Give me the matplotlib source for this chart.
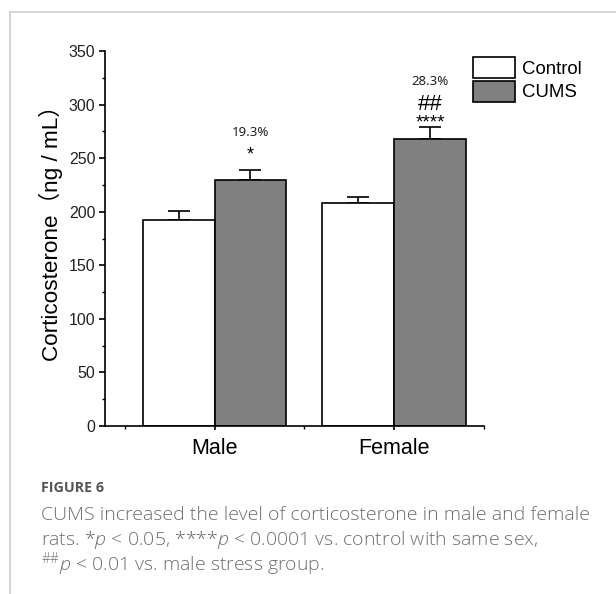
import numpy as np
import matplotlib
matplotlib.use("Agg")
import matplotlib.pyplot as plt
from matplotlib.lines import Line2D

# data
groups = ["Male", "Female"]
control_mean = [192, 208]
control_sem = [9, 5.5]
cums_mean = [229.5, 268]
cums_sem = [9.5, 11.5]
pct_labels = ["19.3%", "28.3%"]
sig_labels = ["*", "****"]
hash_labels = ["", "##"]

plt.rcParams['mathtext.fontset'] = 'custom'
plt.rcParams['mathtext.rm'] = 'Open Sans:light'
plt.rcParams['mathtext.it'] = 'Open Sans:italic:light'

fig = plt.figure(figsize=(6.16, 5.94), dpi=100)
ax = fig.add_axes([105/616, 1-426/594, (484-105)/616, 375/594])

x = np.arange(1, len(groups)+1)
w = 0.4
ax.bar(x - w/2, control_mean, w, color='white', edgecolor='black', linewidth=1.2,
       label='Control', zorder=2)
ax.bar(x + w/2, cums_mean, w, color='#808080', edgecolor='black', linewidth=1.2,
       label='CUMS', zorder=2)
ax.errorbar(x - w/2, control_mean, yerr=[np.zeros(2), control_sem], fmt='none',
            ecolor='black', elinewidth=1.2, capsize=8, capthick=1.2, zorder=1)
ax.errorbar(x + w/2, cums_mean, yerr=[np.zeros(2), cums_sem], fmt='none',
            ecolor='black', elinewidth=1.2, capsize=8, capthick=1.2, zorder=1)

# annotations above CUMS bars (baseline offsets above error bar top)
for i in range(len(groups)):
    top = cums_mean[i] + cums_sem[i]
    if hash_labels[i]:
        ax.text(x[i] + w/2, top - 1, sig_labels[i], ha='center', va='baseline',
                fontsize=13.5, family='Liberation Sans')
        ax.text(x[i] + w/2, top + 15.5, hash_labels[i], ha='center', va='baseline',
                fontsize=16, family='Liberation Sans')
        ax.text(x[i] + w/2, top + 39, pct_labels[i], ha='center', va='baseline',
                fontsize=9.5, family='Noto Sans', color='#222222')
    else:
        ax.text(x[i] + w/2, top + 10, sig_labels[i], ha='center', va='baseline',
                fontsize=13, family='Liberation Sans')
        ax.text(x[i] + w/2, top + 31.5, pct_labels[i], ha='center', va='baseline',
                fontsize=9.5, family='Noto Sans', color='#222222')

ax.set_xlim(0.39, 2.5)
ax.set_ylim(0, 350)
ax.set_xticks(x)
ax.set_xticklabels(groups, fontsize=15.5, family='Liberation Sans')
ax.set_xticks([0.5, 1.5, 2.5], minor=True)
ax.set_yticks(np.arange(0, 351, 50))
ax.set_yticks(np.arange(25, 350, 50), minor=True)
ax.tick_params(axis='y', which='major', labelsize=11.5, length=4, width=1.2, pad=3)
ax.tick_params(axis='y', which='minor', length=2.5, width=1.0)
ax.tick_params(axis='x', which='major', length=3, width=1.2, pad=6)
ax.tick_params(axis='x', which='minor', length=2, width=1.0)
for t in ax.get_yticklabels():
    t.set_family('Liberation Sans')
    t.set_color('#222222')
ax.spines['top'].set_visible(False)
ax.spines['right'].set_visible(False)
ax.spines['left'].set_linewidth(1.2)
ax.spines['bottom'].set_linewidth(1.2)

fig.text(51/616, 1-228/594, "Corticosterone（ng / mL）", rotation=90, ha='center',
         va='center', fontsize=16.2, family=['Liberation Sans', 'Noto Sans CJK SC'])

ax.legend(loc='upper left', bbox_to_anchor=(473/616, 1-57/594), bbox_transform=fig.transFigure,
          frameon=False, handlelength=2.26, handleheight=1.36,
          handletextpad=0.38, labelspacing=0.14, borderpad=0, borderaxespad=0,
          prop={'family': 'Liberation Sans', 'size': 13.4})

# page frame
fig.add_artist(Line2D([10/616, 10/616], [0, 1-12/594], color='#cccccc', lw=1.2))
fig.add_artist(Line2D([10/616, 1], [1-12/594, 1-12/594], color='#cccccc', lw=1.2))

# caption
cap_color = '#6e6e6e'
fig.text(41/616, 1-488/594, "FIGURE 6", fontsize=10.3, family='Open Sans', weight='bold',
         color='#555555', va='center')
cap_lines = [
    "CUMS increased the level of corticosterone in male and female",
    r"rats. *$p$ < 0.05, ****$p$ < 0.0001 vs. control with same sex,",
    r"$^{\#\#}p$ < 0.01 vs. male stress group.",
]
cap_y = [515, 540, 564]
for s, yy in zip(cap_lines, cap_y):
    fig.text(41/616, 1-yy/594, s, fontsize=14, family='Open Sans', weight='light',
             color=cap_color, va='center')

fig.savefig("out.png", dpi=100)
